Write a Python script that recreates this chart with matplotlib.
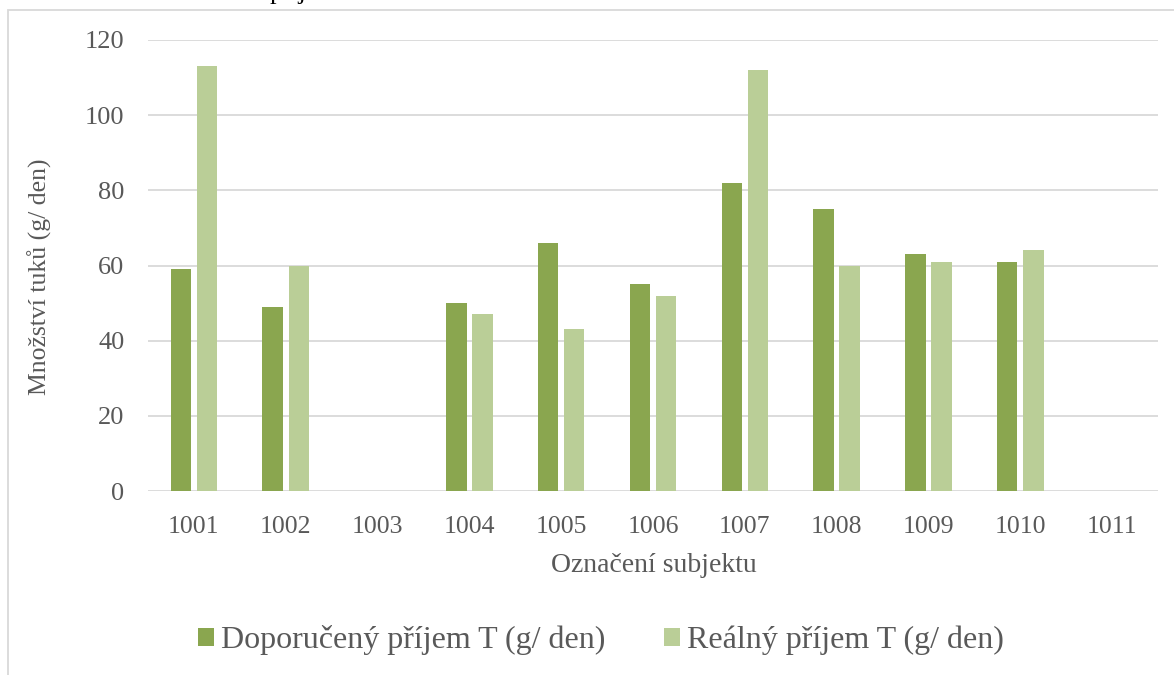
import matplotlib.pyplot as plt
import numpy as np
from matplotlib.patches import Rectangle

# data
subjects = ['1001', '1002', '1003', '1004', '1005', '1006', '1007', '1008', '1009', '1010', '1011']
doporuceny = [59, 49, 0, 50, 66, 55, 82, 75, 63, 61, 0]
realny = [113, 60, 0, 47, 43, 52, 112, 60, 61, 64, 0]
yticks = [0, 20, 40, 60, 80, 100, 120]

dark = '#8AA64F'
light = '#BACE97'
grid_col = '#D9D9D9'
txt_col = '#595959'

plt.rcParams['font.family'] = ['Liberation Serif', 'DejaVu Serif']

W, H = 1174, 675
fig = plt.figure(figsize=(W / 100, H / 100), dpi=100)

# outer chart border (only left and top are visible in the crop)
fig.patches.append(Rectangle((8 / W, -0.1), 1.2, (H - 10) / H + 0.1, transform=fig.transFigure,
                             fill=False, edgecolor=grid_col, linewidth=1.3))
# cut off caption above the chart
fig.text(270 / W, 1 + 0.5 / H, 'příjem', fontsize=19, color='black', va='baseline', ha='left')

ax = fig.add_axes([148 / W, (H - 491) / H, (1158 - 148) / W, (491 - 40) / H])
x = np.arange(len(subjects))
w = 0.222
off = 0.142
ax.bar(x - off, doporuceny, width=w, color=dark, label='Doporučený příjem T (g/ den)', zorder=3)
ax.bar(x + off, realny, width=w, color=light, label='Reálný příjem T (g/ den)', zorder=3)

ax.set_xlim(-0.5, len(subjects) - 0.5)
ax.set_ylim(0, 120)
ax.set_yticks(yticks)
ax.set_xticks(x)
ax.set_xticklabels(subjects)
for s in ax.spines.values():
    s.set_visible(False)
ax.grid(axis='y', color=grid_col, linewidth=1.3, zorder=0)
ax.tick_params(length=0, labelcolor=txt_col)
ax.tick_params(axis='x', pad=18, labelsize=18.5)
ax.tick_params(axis='y', pad=17, labelsize=19)

ax.set_xlabel('Označení subjektu', fontsize=20, color=txt_col, va='center')
ax.xaxis.set_label_coords((654 - 148) / 1010, -(565 - 491) / 451)
ax.set_ylabel('Množství tuků (g/ den)', fontsize=18.5, color=txt_col, va='center')
ax.yaxis.set_label_coords((40 - 148) / 1010, (491 - 277) / 451)

ax.legend(loc='center', bbox_to_anchor=(601 / W, (H - 640) / H), bbox_transform=fig.transFigure,
          ncol=2, frameon=False, fontsize=23, labelcolor=txt_col, handlelength=0.5, handleheight=0.5,
          handletextpad=0.22, columnspacing=1.85, borderpad=0, borderaxespad=0)

fig.savefig('out.png', dpi=100)
